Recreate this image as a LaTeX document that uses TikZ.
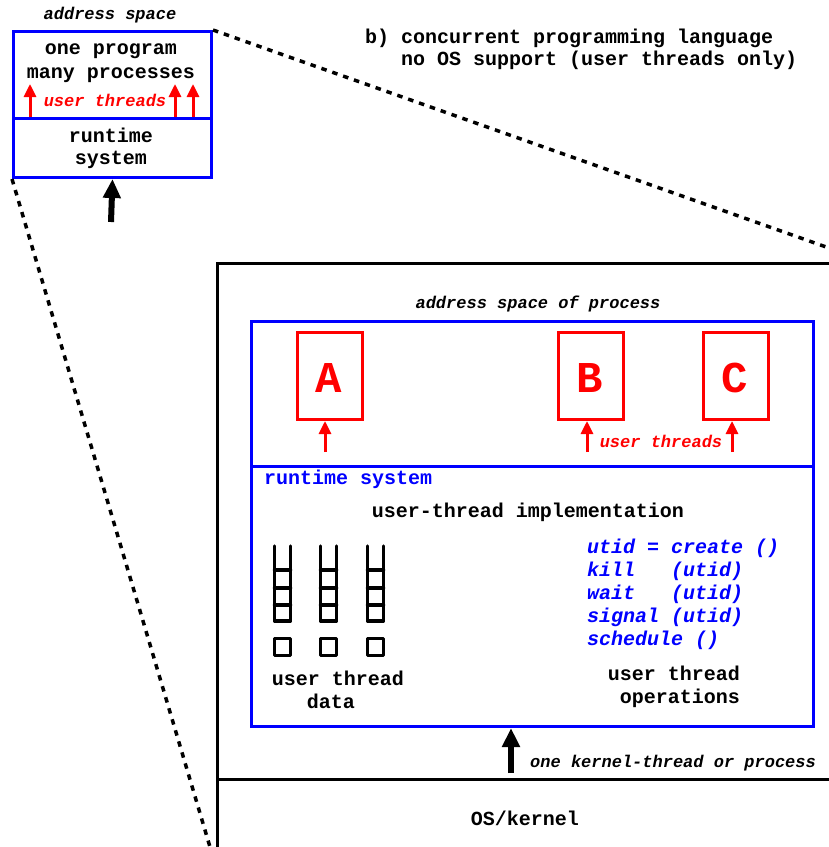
\documentclass[tikz,border=0pt]{standalone}
\usepackage{fontspec}
\setmainfont{Liberation Mono}
\usetikzlibrary{arrows.meta}
\definecolor{myblue}{RGB}{0,0,255}
\definecolor{myred}{RGB}{255,0,0}
\tikzset{
 txt/.style={font=\fontsize{20}{24}\selectfont\bfseries, inner sep=0pt},
 itx/.style={font=\fontsize{17}{20}\selectfont\bfseries\itshape, inner sep=0pt},
 opx/.style={font=\fontsize{20}{24}\selectfont\bfseries\itshape, inner sep=0pt, text=myblue, anchor=base west},
 big/.style={font=\fontsize{44}{48}\selectfont\bfseries, inner sep=0pt, text=myred},
 bluebox/.style={draw=myblue, line width=3pt, inner sep=0pt, anchor=north west},
 blackbox/.style={draw=black, line width=3pt, inner sep=0pt, anchor=north west},
 redbox/.style={draw=myred, line width=3pt, inner sep=0pt, anchor=north west},
 redarr/.style={draw=myred, line width=3pt, -{Triangle[length=13pt,width=12pt]}},
 blackarr/.style={line width=6pt, -{Triangle[length=19pt,width=17pt]}},
 dashline/.style={line width=3.5pt, dash pattern=on 5.5pt off 6pt},
 ladder/.style={line width=3.5pt, line cap=round, line join=round},
}
\begin{document}
\begin{tikzpicture}[x=1pt,y=-1pt]
\useasboundingbox (0,0) rectangle (829,847);
\clip (0,0) rectangle (829,847);
\fill[white] (0,0) rectangle (829,847);

% ---- small overview box ----
\node[itx, anchor=base] (asp) at (110,19) {address space};
\node[bluebox, minimum width=198pt, minimum height=87pt] (smtop) at (12,30) {};
\node[bluebox, minimum width=198pt, minimum height=59pt] (smbot) at (12,117) {};
\node[txt, anchor=base] (l1) at (111,54) {one program};
\node[txt, anchor=base] (l2) at (111,78) {many processes};
\node[itx, anchor=base, text=myred] (ut1) at (105,106) {user threads};
\node[txt, anchor=base] (rt1) at (111,142) {runtime};
\node[txt, anchor=base] (rt2) at (111,164) {system};
\coordinate (s1a) at (30,117); \coordinate (s1b) at (30,84);
\coordinate (s2a) at (175,117); \coordinate (s2b) at (175,84);
\coordinate (s3a) at (193,117); \coordinate (s3b) at (193,84);
\draw[redarr] (s1a) -- (s1b);
\draw[redarr] (s2a) -- (s2b);
\draw[redarr] (s3a) -- (s3b);
\coordinate (skb) at (111,222);
\draw[blackarr] (skb) -- (smbot.south);

% ---- zoom lines ----
\coordinate (zr) at (829,248);
\coordinate (zl) at (210,847);
\draw[dashline] (smtop.north east) -- (zr);
\draw[dashline] (smbot.south west) -- (zl);

% ---- title ----
\node[txt, anchor=base west] (t1) at (365,43) {b) concurrent programming language};
\node[txt, anchor=base west] (t2) at (365,65) {\ \ \ no OS support (user threads only)};

% ---- big process box ----
\node[blackbox, minimum width=700pt, minimum height=516pt] (proc) at (216,262) {};
\node[blackbox, minimum width=700pt, minimum height=150pt] (os) at (216,778) {};
\node[txt, anchor=base] (osl) at (525,825) {OS/kernel};
\node[itx, anchor=base] (asp2) at (538,308) {address space of process};

\node[bluebox, minimum width=562pt, minimum height=145pt] (utop) at (250,320) {};
\node[bluebox, minimum width=562pt, minimum height=260pt] (rts) at (250,465) {};

\node[redbox, minimum width=65pt, minimum height=87pt] (A) at (296,331) {};
\node[redbox, minimum width=65pt, minimum height=87pt] (B) at (557,331) {};
\node[redbox, minimum width=65pt, minimum height=87pt] (C) at (702,331) {};
\node[big, anchor=base] (Al) at (328.5,392) {A};
\node[big, anchor=base] (Bl) at (589.5,392) {B};
\node[big, anchor=base] (Cl) at (734.5,392) {C};
\coordinate (Aa) at (325,452);
\coordinate (Ba) at (587,452);
\coordinate (Ca) at (732,452);
\draw[redarr] (Aa) -- (A.south -| Aa);
\draw[redarr] (Ba) -- (B.south -| Ba);
\draw[redarr] (Ca) -- (C.south -| Ca);
\node[itx, anchor=base, text=myred] (ut2) at (661,447) {user threads};

\node[txt, anchor=base west, text=myblue] (rsl) at (264,484) {runtime system};
\node[txt, anchor=base] (uti) at (528,517) {user-thread implementation};

% ladders (stacks) and thread records
\foreach \x in {274.5,320.5,367.5}{
  \draw[ladder] (\x,546) -- (\x,621) -- (\x+16,621) -- (\x+16,546);
  \draw[ladder] (\x,605) -- (\x+16,605);
  \draw[ladder] (\x,588) -- (\x+16,588);
  \draw[ladder] (\x,570) -- (\x+16,570);
  \draw[ladder] (\x,638.5) rectangle (\x+16,655.5);
}
\node[txt, anchor=base] (utd1) at (338,685) {user thread};
\node[txt, anchor=base] (utd2) at (331,708) {data};

\node[opx] (o1) at (587,553) {utid = create ()};
\node[opx] (o2) at (587,576) {kill\ \ \ (utid)};
\node[opx] (o3) at (587,599) {wait\ \ \ (utid)};
\node[opx] (o4) at (587,622) {signal (utid)};
\node[opx] (o5) at (587,645) {schedule ()};
\node[txt, anchor=base east] (uto1) at (740,680) {user thread};
\node[txt, anchor=base east] (uto2) at (740,703) {operations};

\coordinate (ka) at (511,773);
\draw[blackarr] (ka) -- (rts.south -| ka);
\node[itx, anchor=base west] (kl) at (530,767) {one kernel-thread or process};
\end{tikzpicture}
\end{document}
